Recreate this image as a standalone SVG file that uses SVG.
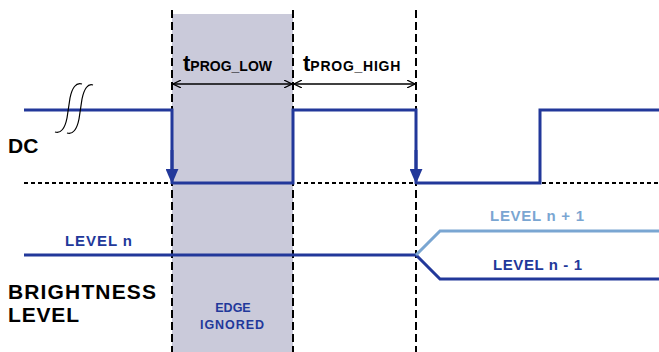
<svg xmlns="http://www.w3.org/2000/svg" width="659" height="352" viewBox="0 0 659 352">
<style>
.sig{fill:none;stroke:#22389a;stroke-width:3}
.dash{fill:none;stroke:#000;stroke-width:2;stroke-dasharray:8 4}
.dot{fill:none;stroke:#000;stroke-width:2;stroke-dasharray:4 3}
.dim{fill:none;stroke:#000;stroke-width:1.5}
.t{font-family:"Liberation Sans",Arial,sans-serif;font-weight:bold}
</style>
<defs>
<marker id="open" viewBox="0 0 10 10" refX="10" refY="5" markerWidth="8" markerHeight="8" orient="auto-start-reverse" markerUnits="userSpaceOnUse">
<path d="M0,0 L10,5 L0,10" fill="none" stroke="#000" stroke-width="1.5"/>
</marker>
<marker id="fill" viewBox="0 0 14 12" refX="14" refY="6" markerWidth="15" markerHeight="13" orient="auto" markerUnits="userSpaceOnUse">
<path d="M0,0 L14,6 L0,12 Z" fill="#22389a"/>
</marker>
</defs>
<rect id="ignored-region" x="172" y="14" width="121" height="338" fill="#cacada"/>
<g id="connectors">
<line class="dash" x1="172" y1="10" x2="172" y2="352"/>
<line class="dash" x1="293" y1="10" x2="293" y2="352"/>
<line class="dash" x1="416" y1="10" x2="416" y2="352"/>
<line class="dot" x1="24" y1="183" x2="659" y2="183"/>
<line class="dim" x1="173" y1="84" x2="292" y2="84" marker-start="url(#open)" marker-end="url(#open)"/>
<line class="dim" x1="294" y1="84" x2="415" y2="84" marker-start="url(#open)" marker-end="url(#open)"/>
</g>
<g id="dc-signal">
<path class="sig" d="M24,110 H172 V175"/>
<line x1="172" y1="150" x2="172" y2="184" stroke="#22389a" stroke-width="3" marker-end="url(#fill)"/>
<path class="sig" d="M172,183 H293 V110 H416 V175"/>
<line x1="416" y1="150" x2="416" y2="184" stroke="#22389a" stroke-width="3" marker-end="url(#fill)"/>
<path class="sig" d="M416,183 H540 V110 H659"/>
<path d="M55,132 C61,134 65,128 67,118 L70,98 C72,88 76,82 82,84 M67,133 C73,135 77,129 79,119 L82,99 C84,89 88,83 93,85" fill="none" stroke="#000" stroke-width="1.2"/>
</g>
<g id="brightness-signal">
<path class="sig" d="M24,255 H416 L440,279 H659"/>
<path fill="none" stroke="#7aa6d2" stroke-width="3" d="M416,255 L440,231 H659"/>
</g>
<g id="labels">
<text class="t" x="8" y="153" font-size="21" fill="#000">DC</text>
<text class="t" x="8" y="299" font-size="21" fill="#000" textLength="148" lengthAdjust="spacing">BRIGHTNESS</text>
<text class="t" x="8" y="322" font-size="21" fill="#000" textLength="71" lengthAdjust="spacing">LEVEL</text>
<text class="t" x="65" y="246" font-size="15" fill="#22389a" textLength="67" lengthAdjust="spacing">LEVEL n</text>
<text class="t" x="490" y="221" font-size="15" fill="#7aa6d2" textLength="94" lengthAdjust="spacing">LEVEL n + 1</text>
<text class="t" x="493" y="270" font-size="15" fill="#22389a" textLength="89" lengthAdjust="spacing">LEVEL n - 1</text>
<text class="t" x="233" y="312" font-size="12.5" fill="#22389a" text-anchor="middle">EDGE</text>
<text class="t" x="232" y="329" font-size="12.5" fill="#22389a" text-anchor="middle" textLength="64" lengthAdjust="spacing">IGNORED</text>
<text class="t" x="183" y="71" font-size="22" fill="#000">t<tspan font-size="14">PROG_LOW</tspan></text>
<text class="t" x="303" y="71" font-size="22" fill="#000">t<tspan font-size="14" textLength="90" lengthAdjust="spacing">PROG_HIGH</tspan></text>
</g>
</svg>
